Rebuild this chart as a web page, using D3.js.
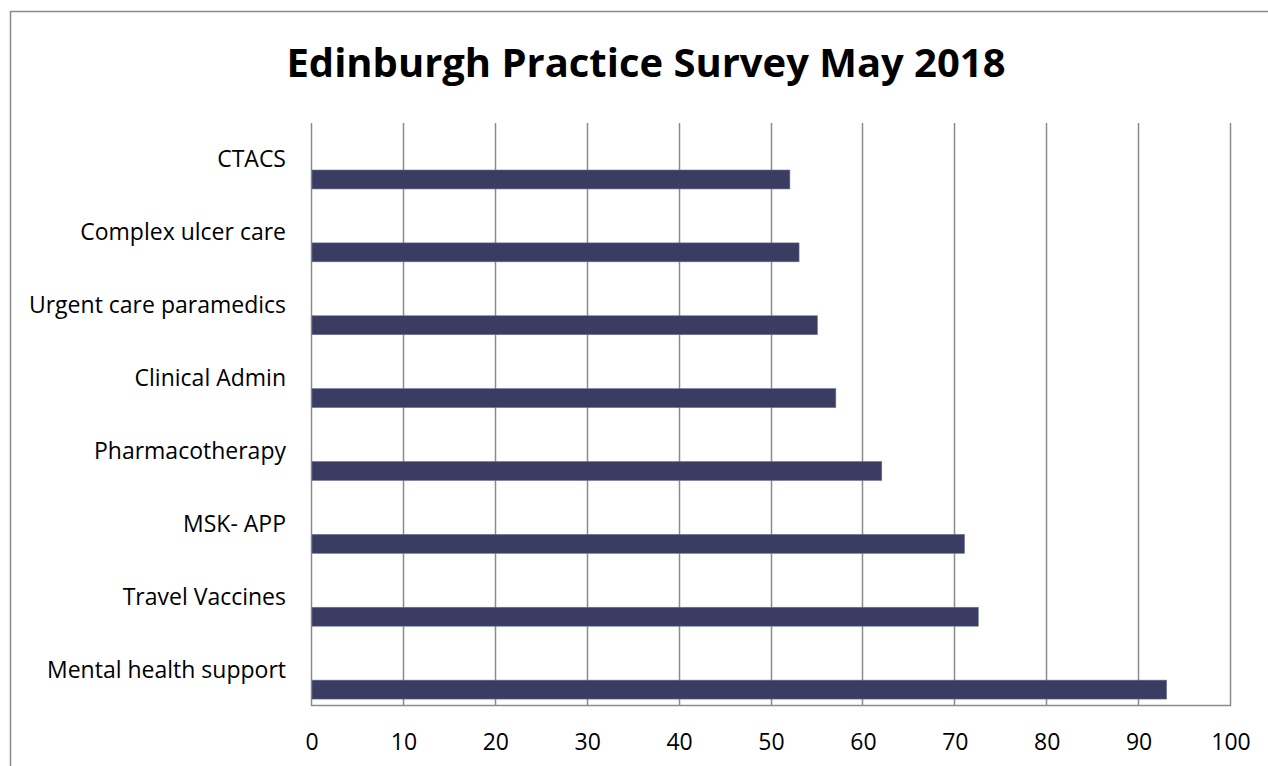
<!DOCTYPE html>
<html>
<head>
<meta charset="utf-8">
<script src="https://cdn.jsdelivr.net/npm/d3@7"></script>
<style>
  body { margin: 0; background: #fff; }
  svg { display: block; }
  .label { font-family: "Open Sans", sans-serif; font-size: 23px; fill: #000; }
  .tick-label { font-family: "Open Sans", sans-serif; font-size: 23px; fill: #000; }
  .title { font-family: "Open Sans", sans-serif; font-size: 40px; font-weight: bold; fill: #000; }
</style>
</head>
<body>
<svg id="chart"></svg>
<script>
// chart data, top row first
const categories = [
  "CTACS",
  "Complex ulcer care",
  "Urgent care paramedics",
  "Clinical Admin",
  "Pharmacotherapy",
  "MSK- APP",
  "Travel Vaccines",
  "Mental health support"
];
const values = [52, 53, 55, 57, 62, 71, 72.5, 93];
const tickValues = [0, 10, 20, 30, 40, 50, 60, 70, 80, 90, 100];
const chartTitle = "Edinburgh Practice Survey May 2018";

const width = 1268;
const height = 766;

const svg = d3.select("#chart")
  .attr("width", width)
  .attr("height", height);

// outer chart frame (only top and left edges are in view)
svg.append("path")
  .attr("d", `M10.5,${height} L10.5,11.5 L${width},11.5`)
  .attr("fill", "none")
  .attr("stroke", "#8a8a8a")
  .attr("stroke-width", 1.5);

// title
svg.append("text")
  .attr("class", "title")
  .attr("x", 646)
  .attr("y", 77)
  .attr("text-anchor", "middle")
  .attr("textLength", 719)
  .attr("lengthAdjust", "spacingAndGlyphs")
  .text(chartTitle);

// plot area
const plot = { left: 312, right: 1231, top: 123, bottom: 706 };

const x = d3.scaleLinear()
  .domain([0, 100])
  .range([plot.left, plot.right]);

const y = d3.scaleBand()
  .domain(categories)
  .range([plot.top, plot.bottom]);

// vertical gridlines
svg.append("g")
  .selectAll("line")
  .data(tickValues)
  .enter()
  .append("line")
  .attr("x1", d => Math.round(x(d)) - 0.5)
  .attr("x2", d => Math.round(x(d)) - 0.5)
  .attr("y1", plot.top)
  .attr("y2", plot.bottom)
  .attr("stroke", "#8c8c8c")
  .attr("stroke-width", 1.5);

// bottom axis line
svg.append("line")
  .attr("x1", plot.left - 1)
  .attr("x2", plot.right)
  .attr("y1", plot.bottom - 0.5)
  .attr("y2", plot.bottom - 0.5)
  .attr("stroke", "#8c8c8c")
  .attr("stroke-width", 1.5);

// bars sit in the lower part of each band (Excel clustered layout)
const bw = y.bandwidth();
svg.append("g")
  .selectAll("rect")
  .data(values)
  .enter()
  .append("rect")
  .attr("x", x(0))
  .attr("y", (d, i) => y(categories[i]) + bw * 0.645)
  .attr("width", d => x(d) - x(0))
  .attr("height", bw * 0.26)
  .attr("fill", "#3a3c62")
  .attr("stroke", "#6f7299")
  .attr("stroke-width", 0.6);

// category labels, centred on each band
svg.append("g")
  .selectAll("text")
  .data(categories)
  .enter()
  .append("text")
  .attr("class", "label")
  .attr("x", 286)
  .attr("y", d => y(d) + bw / 2 + 8)
  .attr("text-anchor", "end")
  .text(d => d);

// x tick labels
svg.append("g")
  .selectAll("text")
  .data(tickValues)
  .enter()
  .append("text")
  .attr("class", "tick-label")
  .attr("x", d => x(d))
  .attr("y", 750)
  .attr("text-anchor", "middle")
  .text(d => d);
</script>
</body>
</html>
